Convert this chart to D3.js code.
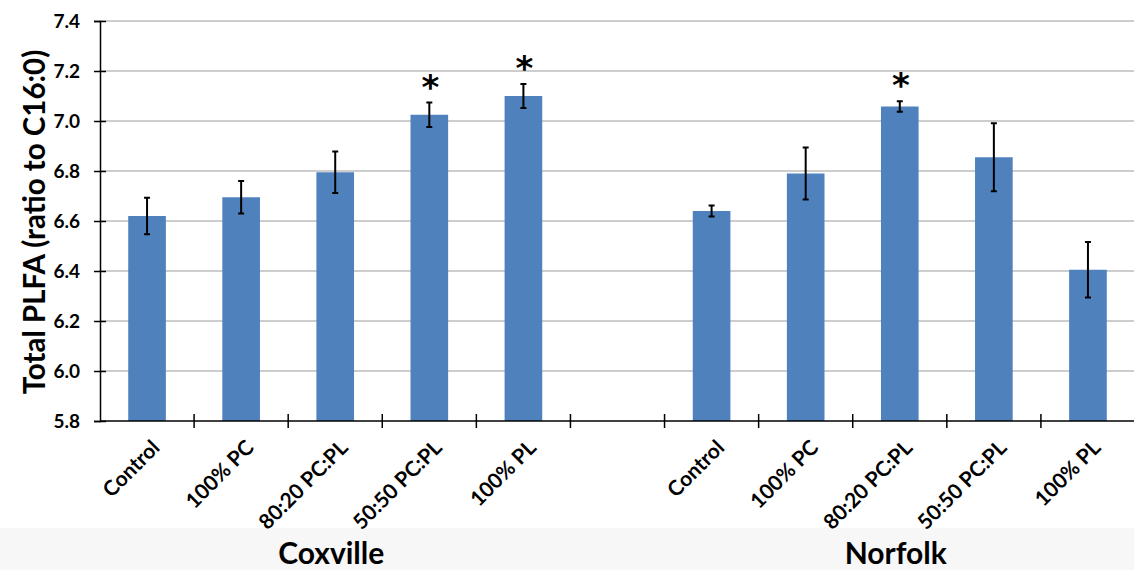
<!DOCTYPE html>
<html>
<head>
<meta charset="utf-8">
<script src="https://cdn.jsdelivr.net/npm/d3@7"></script>
<style>
  body { margin: 0; background: #fff; }
  text { font-family: Lato, "Open Sans", sans-serif; font-weight: 700; fill: #000; }
</style>
</head>
<body>
<div id="chart"></div>
<script>
// data
var sites = ["Coxville", "Norfolk"];
var treatments = ["Control", "100% PC", "80:20 PC:PL", "50:50 PC:PL", "100% PL"];
var coxvilleMean = [6.62, 6.695, 6.795, 7.025, 7.10];
var coxvilleErr = [0.073, 0.065, 0.083, 0.049, 0.048];
var coxvilleSig = [false, false, false, true, true];
var norfolkMean = [6.64, 6.79, 7.058, 6.855, 6.405];
var norfolkErr = [0.022, 0.104, 0.021, 0.136, 0.111];
var norfolkSig = [false, false, true, false, false];
var yTicks = [5.8, 6.0, 6.2, 6.4, 6.6, 6.8, 7.0, 7.2, 7.4];

var svgWidth = 1134;
var svgHeight = 570;
var plot = { left: 100, right: 1135, top: 21, bottom: 421 };

var svg = d3.select("#chart")
  .append("svg")
  .attr("width", svgWidth)
  .attr("height", svgHeight);

// light band behind the site names
svg.append("rect")
  .attr("x", 0).attr("y", 528)
  .attr("width", svgWidth).attr("height", 42)
  .attr("fill", "#f7f7f7");

// rows: five Coxville, an empty slot, five Norfolk
var rows = [];
treatments.forEach(function(t, i) {
  rows.push({ key: "Coxville|" + t, site: "Coxville", label: t, mean: coxvilleMean[i], err: coxvilleErr[i], sig: coxvilleSig[i] });
});
rows.push({ key: "gap", site: null, label: "", mean: null });
treatments.forEach(function(t, i) {
  rows.push({ key: "Norfolk|" + t, site: "Norfolk", label: t, mean: norfolkMean[i], err: norfolkErr[i], sig: norfolkSig[i] });
});
var bars = rows.filter(function(d) { return d.mean !== null; });

var x = d3.scaleBand()
  .domain(rows.map(function(d) { return d.key; }))
  .range([plot.left, plot.right])
  .padding(0);

var y = d3.scaleLinear()
  .domain([5.8, 7.4])
  .range([plot.bottom, plot.top]);

var barW = x.bandwidth() * 0.4;
function cx(d) { return x(d.key) + x.bandwidth() / 2; }

// gridlines
svg.append("g")
  .selectAll("line")
  .data(yTicks.slice(1))
  .enter()
  .append("line")
  .attr("x1", plot.left).attr("x2", svgWidth)
  .attr("y1", function(d) { return y(d); })
  .attr("y2", function(d) { return y(d); })
  .attr("stroke", "#bdbdbd")
  .attr("stroke-width", 1.5);

// bars
svg.append("g")
  .selectAll("rect")
  .data(bars)
  .enter()
  .append("rect")
  .attr("x", function(d) { return cx(d) - barW / 2; })
  .attr("width", barW)
  .attr("y", function(d) { return y(d.mean); })
  .attr("height", function(d) { return y(5.8) - y(d.mean); })
  .attr("fill", "#4f81bd");

// error bars
var eb = svg.append("g")
  .selectAll("g")
  .data(bars)
  .enter()
  .append("g")
  .attr("stroke", "#000")
  .attr("stroke-width", 2);

eb.append("line")
  .attr("x1", cx).attr("x2", cx)
  .attr("y1", function(d) { return y(d.mean + d.err); })
  .attr("y2", function(d) { return y(d.mean - d.err); });
eb.append("line")
  .attr("x1", function(d) { return cx(d) - 3; })
  .attr("x2", function(d) { return cx(d) + 3; })
  .attr("y1", function(d) { return y(d.mean + d.err); })
  .attr("y2", function(d) { return y(d.mean + d.err); });
eb.append("line")
  .attr("x1", function(d) { return cx(d) - 3; })
  .attr("x2", function(d) { return cx(d) + 3; })
  .attr("y1", function(d) { return y(d.mean - d.err); })
  .attr("y2", function(d) { return y(d.mean - d.err); });

// significance stars, centred ~16px above the error bar
svg.append("g")
  .selectAll("text")
  .data(bars.filter(function(d) { return d.sig; }))
  .enter()
  .append("text")
  .attr("text-anchor", "middle")
  .style("font-family", "'DejaVu Sans', sans-serif")
  .style("font-size", "34px")
  .attr("x", function(d) { return cx(d) + 1; })
  .attr("y", function(d) { return y(d.mean + d.err) - 16; })
  .text("*")
  .each(function() {
    var b = this.getBBox();
    var target = +this.getAttribute("y");
    this.setAttribute("y", target + (target - (b.y + b.height / 2)));
  });

// y axis
var yAxis = svg.append("g")
  .attr("transform", "translate(" + plot.left + ",0)")
  .call(d3.axisLeft(y).tickValues(yTicks).tickSize(6).tickPadding(14).tickFormat(d3.format(".1f")));
yAxis.select(".domain").attr("stroke", "#000").attr("stroke-width", 1.5);
yAxis.selectAll(".tick line").attr("x2", -6).attr("x1", 6).attr("stroke", "#000").attr("stroke-width", 1.5);
yAxis.selectAll(".tick text")
  .attr("fill", "#000")
  .style("font-size", "19px");

// x axis line and boundary ticks
svg.append("line")
  .attr("x1", plot.left).attr("x2", svgWidth)
  .attr("y1", plot.bottom).attr("y2", plot.bottom)
  .attr("stroke", "#000").attr("stroke-width", 1.5);
svg.append("g")
  .selectAll("line")
  .data(rows.slice(1))
  .enter()
  .append("line")
  .attr("x1", function(d) { return x(d.key); })
  .attr("x2", function(d) { return x(d.key); })
  .attr("y1", plot.bottom - 7).attr("y2", plot.bottom + 7)
  .attr("stroke", "#000").attr("stroke-width", 1.5);

// rotated treatment labels
svg.append("g")
  .selectAll("text")
  .data(bars)
  .enter()
  .append("text")
  .attr("text-anchor", "end")
  .style("font-size", "21px")
  .attr("transform", function(d) { return "translate(" + (cx(d) + 14) + "," + (plot.bottom + 28) + ") rotate(-45)"; })
  .text(function(d) { return d.label; });

// site labels
svg.append("g")
  .selectAll("text")
  .data(sites)
  .enter()
  .append("text")
  .attr("text-anchor", "middle")
  .style("font-size", "30px")
  .attr("x", function(s) {
    var ks = bars.filter(function(d) { return d.site === s; });
    return (x(ks[0].key) + x(ks[ks.length - 1].key) + x.bandwidth()) / 2 - 4;
  })
  .attr("y", 564)
  .text(function(s) { return s; });

// y axis title
svg.append("text")
  .attr("transform", "translate(45," + ((plot.top + plot.bottom) / 2 + 1) + ") rotate(-90)")
  .attr("text-anchor", "middle")
  .style("font-size", "29.5px")
  .text("Total PLFA (ratio to C16:0)");
</script>
</body>
</html>
